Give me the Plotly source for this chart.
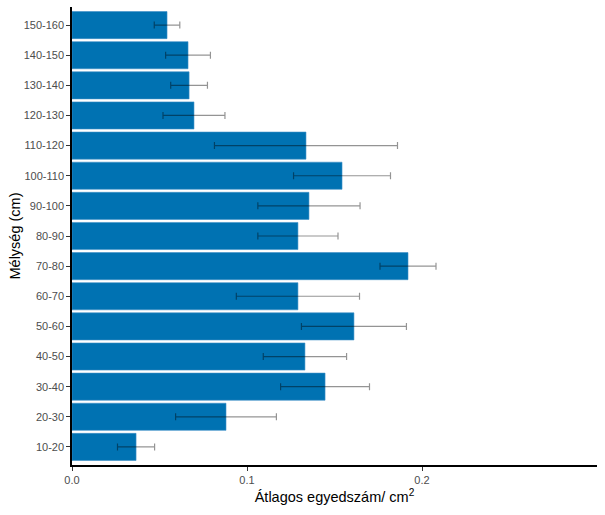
import plotly.graph_objects as go

categories = ["10-20", "20-30", "30-40", "40-50", "50-60", "60-70", "70-80", "80-90",
              "90-100", "100-110", "110-120", "120-130", "130-140", "140-150", "150-160"]
means = [0.0366, 0.0880, 0.1446, 0.1331, 0.1611, 0.1291, 0.1920, 0.1291,
         0.1354, 0.1543, 0.1337, 0.0697, 0.0669, 0.0663, 0.0543]
errors = [0.0106, 0.0288, 0.0254, 0.0238, 0.0300, 0.0352, 0.0160, 0.0229,
          0.0292, 0.0277, 0.0523, 0.0177, 0.0105, 0.0128, 0.0073]
x_ticks = [0.0, 0.1, 0.2]
x_tick_labels = ["0.0", "0.1", "0.2"]

fig = go.Figure()
fig.add_trace(go.Bar(
    y=categories, x=means, orientation="h",
    marker=dict(color="#0072B2", line=dict(width=0.6, color="#3d8fc6")),
    error_x=dict(type="data", array=errors, visible=True,
                 color="rgba(0,0,0,0.42)", thickness=1.2, width=3.5),
))

fig.update_layout(
    width=605, height=515,
    margin=dict(l=72, r=8, t=7, b=50),
    paper_bgcolor="white", plot_bgcolor="white",
    bargap=0.1, showlegend=False,
    font=dict(family="Liberation Sans, Arial, sans-serif", color="black"),
)
fig.update_xaxes(
    range=[0, 0.3], tickvals=x_ticks, ticktext=x_tick_labels,
    automargin=False,
    showgrid=False, zeroline=False,
    showline=True, linecolor="black", linewidth=1.5,
    ticks="outside", ticklen=4, tickcolor="#333333", tickwidth=1,
    tickfont=dict(size=11, color="#4d4d4d"),
    title=dict(text="Átlagos egyedszám/ cm<sup>2</sup>", font=dict(size=14.5, color="black"), standoff=7),
)
fig.update_yaxes(
    categoryorder="array", categoryarray=categories,
    range=[-0.6, 14.6], automargin=False,
    showgrid=False, zeroline=False,
    showline=True, linecolor="black", linewidth=1.5,
    ticks="outside", ticklen=4, tickcolor="#333333", tickwidth=1,
    tickfont=dict(size=11, color="#4d4d4d"),
    title=dict(text="Mélység (cm)", font=dict(size=14.5, color="black"), standoff=0),
)

fig.write_html("out.html", config={"displayModeBar": False},
               post_script="document.body.style.margin='0';document.body.style.overflow='hidden';")
